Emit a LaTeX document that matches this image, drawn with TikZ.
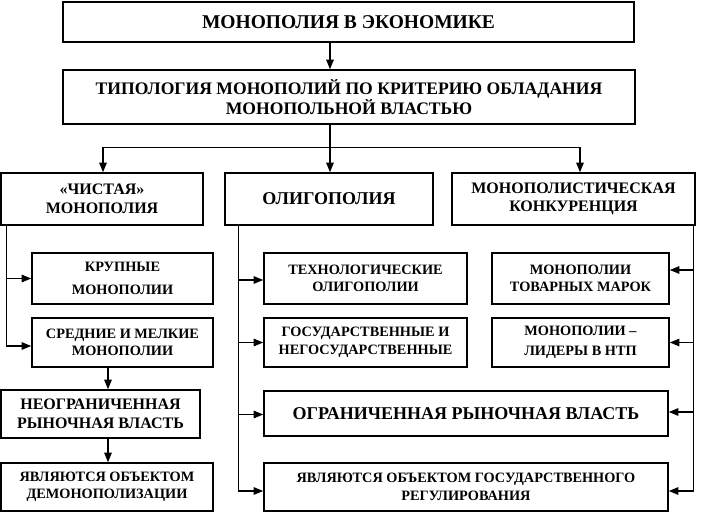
\documentclass[tikz,border=0pt]{standalone}
\usepackage{fontspec}
\setmainfont{Liberation Serif}
\usetikzlibrary{arrows.meta}
\tikzset{
  box/.style={draw, line width=1.6pt, align=center, inner sep=0pt, font=\bfseries},
  arr/.style={line width=1.1pt, -{Triangle[length=9.5pt,width=7.5pt]}},
  ln/.style={line width=1.1pt},
  fbig/.style={font=\bfseries\fontsize{19.5pt}{21pt}\selectfont},
  fmid/.style={font=\bfseries\fontsize{18pt}{19.5pt}\selectfont},
  ftyp/.style={font=\bfseries\fontsize{17.6pt}{20pt}\selectfont},
  frow/.style={font=\bfseries\fontsize{16pt}{18.5pt}\selectfont},
  fsm/.style={font=\bfseries\fontsize{14.3pt}{17.5pt}\selectfont},
}
\begin{document}
\begin{tikzpicture}[x=1pt,y=-1pt]
\useasboundingbox (0,0) rectangle (710,513);
% top
\node[box,fbig,minimum width=571pt,minimum height=40pt] (top) at (348.5,22) {МОНОПОЛИЯ В ЭКОНОМИКЕ};
\node[box,ftyp,minimum width=572pt,minimum height=54pt] (typ) at (349,97) {ТИПОЛОГИЯ МОНОПОЛИЙ ПО КРИТЕРИЮ ОБЛАДАНИЯ\\МОНОПОЛЬНОЙ ВЛАСТЬЮ};
% row 3
\node[box,frow,minimum width=202pt,minimum height=52pt] (pure) at (102,199) {«ЧИСТАЯ»\\МОНОПОЛИЯ};
\node[box,fmid,minimum width=208pt,minimum height=52pt] (olig) at (329,199) {ОЛИГОПОЛИЯ};
\node[box,frow,minimum width=243pt,minimum height=52pt] (monc) at (573.5,199) {МОНОПОЛИСТИЧЕСКАЯ\\КОНКУРЕНЦИЯ};
% left column
\node[box,fsm,minimum width=181pt,minimum height=51pt] (krup) at (122.5,278.5) {КРУПНЫЕ\\[5pt]МОНОПОЛИИ};
\node[box,fsm,minimum width=181pt,minimum height=49pt] (sred) at (122.5,342.5) {СРЕДНИЕ И МЕЛКИЕ\\МОНОПОЛИИ};
\node[box,frow,minimum width=199pt,minimum height=48pt] (neogr) at (100.5,414) {НЕОГРАНИЧЕННАЯ\\[1pt]РЫНОЧНАЯ ВЛАСТЬ};
\node[box,fsm,minimum width=212pt,minimum height=48pt] (demon) at (107,487) {ЯВЛЯЮТСЯ ОБЪЕКТОМ\\ДЕМОНОПОЛИЗАЦИИ};
% middle column
\node[box,fsm,minimum width=203pt,minimum height=51pt] (tech) at (365.5,278.5) {ТЕХНОЛОГИЧЕСКИЕ\\ОЛИГОПОЛИИ};
\node[box,fsm,minimum width=203pt,minimum height=49pt] (gos) at (365.5,342.5) {ГОСУДАРСТВЕННЫЕ И\\НЕГОСУДАРСТВЕННЫЕ};
\node[box,fmid,minimum width=404pt,minimum height=45pt] (lim) at (466,413.5) {ОГРАНИЧЕННАЯ РЫНОЧНАЯ ВЛАСТЬ};
\node[box,fsm,minimum width=404pt,minimum height=48pt] (reg) at (466,487) {ЯВЛЯЮТСЯ ОБЪЕКТОМ ГОСУДАРСТВЕННОГО\\РЕГУЛИРОВАНИЯ};
% right column
\node[box,fsm,minimum width=177pt,minimum height=51pt] (brand) at (580.5,278.5) {МОНОПОЛИИ\\ТОВАРНЫХ МАРОК};
\node[box,fsm,minimum width=177pt,minimum height=49pt] (lead) at (580.5,342.5) {МОНОПОЛИИ –\\[2pt]ЛИДЕРЫ В НТП};
% connectors top
\draw[arr] ([xshift=-18.5pt]top.south) -- ([xshift=-18.5pt]top.south |- typ.north);
\coordinate (split) at ([xshift=-19pt,yshift=-23pt]typ.south);
\draw[ln] ([xshift=-19pt]typ.south) -- (split);
\draw[arr] (split) -| ([xshift=1pt]pure.north);
\draw[arr] (split) -- (split |- olig.north);
\draw[arr] (split) -| ([xshift=6.5pt]monc.north);
% left column connectors
\draw[arr] ([xshift=6pt]pure.south west) |- (krup.west);
\draw[arr] ([xshift=6pt]pure.south west) |- ([yshift=-3.5pt]sred.west);
\draw[arr] ([xshift=-14.5pt]sred.south) -- ([xshift=-14.5pt]sred.south |- neogr.north);
\draw[arr] ([xshift=7.5pt]neogr.south) -- ([xshift=7.5pt]neogr.south |- demon.north);
% middle column connectors
\draw[arr] ([xshift=14pt]olig.south west) |- ([yshift=-1.5pt]tech.west);
\draw[arr] ([xshift=14pt]olig.south west) |- (gos.west);
\draw[arr] ([xshift=14pt]olig.south west) |- ([yshift=-1pt]lim.west);
\draw[arr] ([xshift=14pt]olig.south west) |- ([yshift=-4pt]reg.west);
% right column connectors
\draw[arr] ([xshift=-2pt]monc.south east) |- ([yshift=8.5pt]brand.east);
\draw[arr] ([xshift=-2pt]monc.south east) |- (lead.east);
\draw[arr] ([xshift=-2pt]monc.south east) |- ([yshift=1.5pt]lim.east);
\draw[arr] ([xshift=-2pt]monc.south east) |- ([yshift=-4pt]reg.east);
\end{tikzpicture}
\end{document}
